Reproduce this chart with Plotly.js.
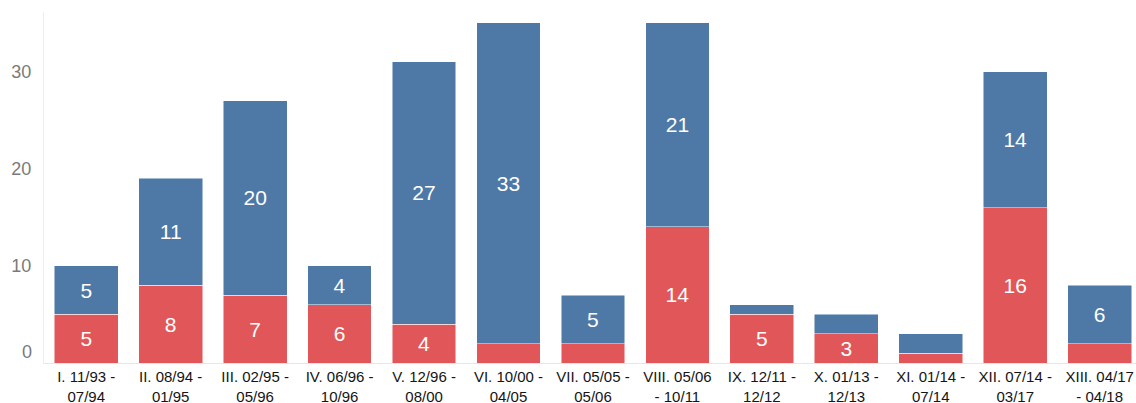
<!DOCTYPE html>
<html>
<head>
<meta charset="utf-8">
<script src="https://cdn.plot.ly/plotly-3.0.1.min.js"></script>
<style>html,body{margin:0;padding:0;background:#fff;}#chart{width:1136px;height:403px;}</style>
</head>
<body>
<div id="chart"></div>
<script>
const categories = [
  "I. 11/93 -<br>07/94", "II. 08/94 -<br>01/95", "III. 02/95 -<br>05/96", "IV. 06/96 -<br>10/96",
  "V. 12/96 -<br>08/00", "VI. 10/00 -<br>04/05", "VII. 05/05 -<br>05/06", "VIII. 05/06<br>- 10/11",
  "IX. 12/11 -<br>12/12", "X. 01/13 -<br>12/13", "XI. 01/14 -<br>07/14", "XII. 07/14 -<br>03/17",
  "XIII. 04/17<br>- 04/18"
];
const redValues  = [5, 8, 7, 6, 4, 2, 2, 14, 5, 3, 1, 16, 2];
const blueValues = [5, 11, 20, 4, 27, 33, 5, 21, 1, 2, 2, 14, 6];
const yTickVals = [0, 10, 20, 30];
const yTickText = ["", "10", "20", "30"];

const labelOf = v => (v >= 3 ? String(v) : "");
const idx = categories.map((_, i) => i);

const common = {
  type: "bar",
  x: idx,
  textposition: "inside",
  insidetextanchor: "middle",
  textfont: {family: "Liberation Sans, Arial, sans-serif", size: 21, color: "#ffffff"},
  hoverinfo: "none",
  constraintext: "none"
};

const traces = [
  Object.assign({}, common, {
    y: redValues, text: redValues.map(labelOf),
    marker: {color: "#e15759", line: {color: "rgba(255,255,255,0.7)", width: 0.7}}
  }),
  Object.assign({}, common, {
    y: blueValues, text: blueValues.map(labelOf),
    marker: {color: "#4e79a7", line: {color: "rgba(255,255,255,0.7)", width: 0.7}}
  })
];

const layout = {
  width: 1136, height: 403,
  barmode: "stack",
  bargap: 0.245,
  showlegend: false,
  paper_bgcolor: "#ffffff",
  plot_bgcolor: "#ffffff",
  margin: {l: 44, r: 0, t: 12, b: 40},
  font: {family: "Liberation Sans, Arial, sans-serif"},
  xaxis: {
    range: [-0.5, 12.43],
    tickvals: idx, ticktext: categories,
    tickfont: {size: 15, color: "#141414"},
    ticks: "", showgrid: false, zeroline: false,
    showline: true, linecolor: "#e6e6e6", linewidth: 1,
    fixedrange: true
  },
  yaxis: {
    range: [0, 36.13],
    tickvals: yTickVals, ticktext: yTickText,
    tickfont: {size: 18, color: "#7a7a7a"},
    ticks: "", ticklabelstandoff: 8,
    showgrid: false, zeroline: false,
    showline: true, linecolor: "#eeeeee", linewidth: 1,
    fixedrange: true
  },
  annotations: [{
    xref: "paper", yref: "y", x: 0, y: 0, xanchor: "right", yanchor: "middle",
    xshift: -10, yshift: 11, text: "0", showarrow: false,
    font: {size: 18, color: "#7a7a7a"}
  }]
};

Plotly.newPlot("chart", traces, layout, {displayModeBar: false, staticPlot: true});
</script>
</body>
</html>
